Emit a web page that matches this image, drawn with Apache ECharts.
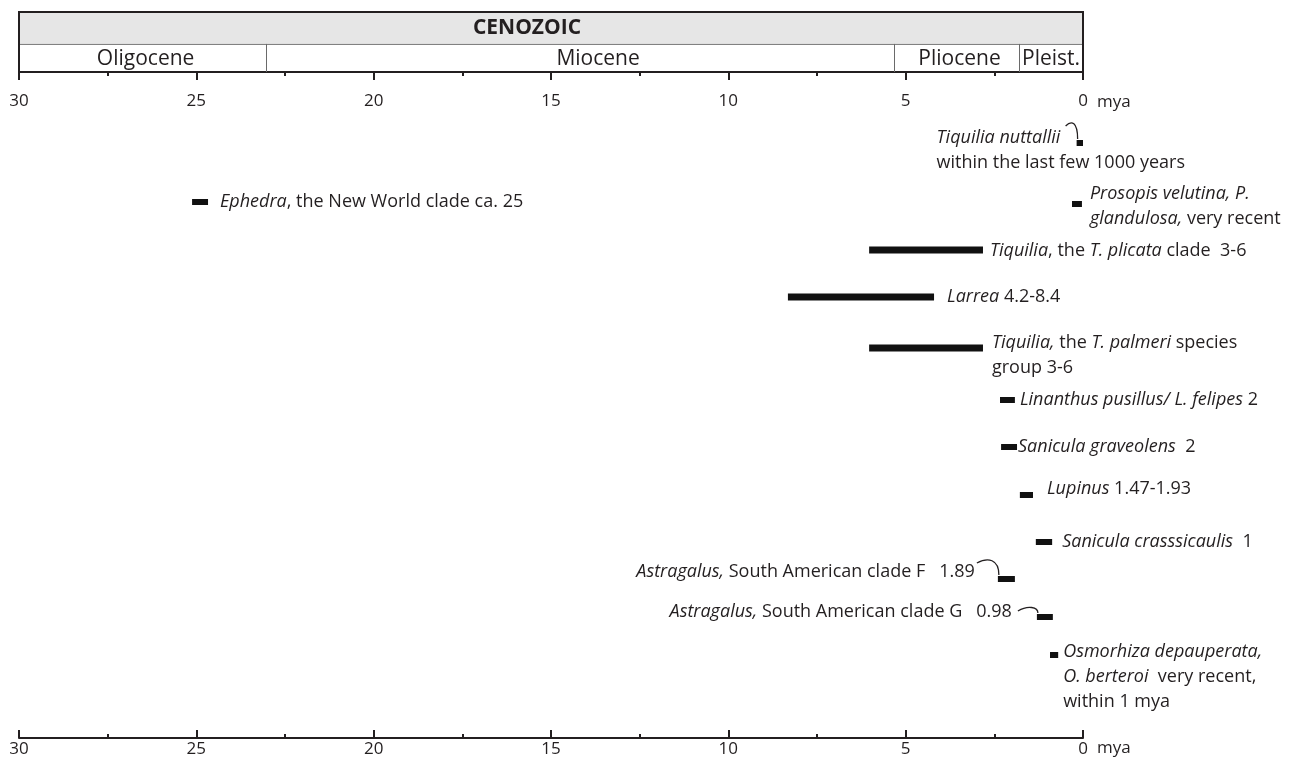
<!DOCTYPE html>
<html><head><meta charset="utf-8">
<script src="https://cdn.jsdelivr.net/npm/echarts@6/dist/echarts.min.js"></script>
<style>html,body{margin:0;padding:0;background:#fff}#c{width:1303px;height:758px}</style>
</head><body><div id="c"></div>
<script>
// ---------- data ----------
const taxa = ['Tiquilia nuttallii','Ephedra','Prosopis velutina / P. glandulosa','Tiquilia plicata clade','Larrea','Tiquilia palmeri group','Linanthus pusillus / L. felipes','Sanicula graveolens','Lupinus','Sanicula crasssicaulis','Astragalus clade F','Astragalus clade G','Osmorhiza depauperata / O. berteroi'];
const startMya = [0.00, 24.67, 0.03, 2.82, 4.20, 2.82, 1.92, 1.86, 1.41, 0.87, 1.92, 0.85, 0.70];
const endMya   = [0.18, 25.12, 0.31, 6.03, 8.32, 6.03, 2.34, 2.31, 1.78, 1.33, 2.40, 1.30, 0.93];
const lanes    = [10.66, 19.52, 19.82, 26.73, 33.78, 41.44, 49.25, 56.31, 63.51, 70.57, 76.13, 81.83, 87.54];
const labelTexts = [
  '{i|Tiquilia nuttallii}\n{n|within the last few 1000 years}',
  '{i|Ephedra}{n|, the New World clade ca. 25}',
  '{i|Prosopis velutina, P.}\n{i|glandulosa,}{n| very recent}',
  '{i|Tiquilia}{n|, the }{i|T. plicata}{n| clade  3-6}',
  '{i|Larrea}{n| 4.2-8.4}',
  '{i|Tiquilia,}{n| the }{i|T. palmeri}{n| species}\n{n|group 3-6}',
  '{i|Linanthus pusillus/ L. felipes}{n| 2}',
  '{i|Sanicula graveolens}{n|  2}',
  '{i|Lupinus}{n| 1.47-1.93}',
  '{i|Sanicula crasssicaulis}{n|  1}',
  '{i|Astragalus,}{n| South American clade F   1.89}',
  '{i|Astragalus,}{n| South American clade G   0.98}',
  '{i|Osmorhiza depauperata,}\n{i|O. berteroi}{n|  very recent,}\n{n|within 1 mya}'
];
const eraName = 'CENOZOIC';
const eraStart = 30, eraEnd = 0;
const epochNames = ['Oligocene','Miocene','Pliocene','Pleist.'];
const epochStart = [30, 23.03, 5.33, 1.8];
const epochEnd   = [23.03, 5.33, 1.8, 0];
const axisMin = 0, axisMax = 30, axisStep = 5;
const axisUnit = 'mya';

// ---------- layout / style ----------
const labelLayout = [
  {side:'block', gap:140, dy:7, arc:[-11,-17]},
  {side:'right', gap:12, dy:0},
  {side:'right', gap:8, dy:2},
  {side:'right', gap:7, dy:1},
  {side:'right', gap:13, dy:0},
  {side:'right', gap:9, dy:7},
  {side:'right', gap:5, dy:0},
  {side:'right', gap:1, dy:0},
  {side:'right', gap:14, dy:-6},
  {side:'right', gap:10, dy:0},
  {side:'left', gap:23, dy:-7, arc:[-21,-16]},
  {side:'left', gap:25, dy:-5, arc:[-19,-6]}
  ,{side:'right', gap:5, dy:22}
];
const epochLabelDx = [3, 18, 3, 0];
const eraLabelDx = -24;
const INK = '#231f20';
const FONT = 'Open Sans';
const LABEL_SIZE = 18;
const rich = {
  i:{fontFamily:FONT, fontSize:LABEL_SIZE, fontStyle:'italic', fill:INK, color:INK, lineHeight:25},
  n:{fontFamily:FONT, fontSize:LABEL_SIZE, fill:INK, color:INK, lineHeight:25}
};

const chart = echarts.init(document.getElementById('c'), null, {renderer:'canvas'});

function xAxisCfg(pos, inside, margin){
  return {
    gridIndex:0, type:'value', position:pos, min:axisMin, max:axisMax, interval:axisStep, inverse:true,
    axisLine:{show:true, onZero:false, lineStyle:{color:INK, width:2}},
    axisTick:{show:true, inside:true, length:8, lineStyle:{color:INK, width:2}},
    minorTick:{show:true, splitNumber:2, length:4, lineStyle:{color:INK, width:2}},
    splitLine:{show:false}, minorSplitLine:{show:false},
    axisLabel:{inside:inside, margin:margin, fontFamily:FONT, fontSize:17, color:INK, showMinLabel:true, showMaxLabel:true}
  };
}

const option = {
  animation:false,
  backgroundColor:'#fff',
  grid:[
    {left:19, right:220, top:72, bottom:20},
    {left:19, right:220, top:11, height:61}
  ],
  xAxis:[
    xAxisCfg('bottom', false, 3),
    xAxisCfg('top', true, 21),
    {gridIndex:1, type:'value', min:axisMin, max:axisMax, inverse:true, show:false}
  ],
  yAxis:[
    {gridIndex:0, type:'value', min:0, max:100, inverse:true, show:false},
    {gridIndex:1, type:'value', min:0, max:1, inverse:true, show:false}
  ],
  series:[
    {
      type:'custom', xAxisIndex:0, yAxisIndex:0, clip:false,
      data: taxa.map((t,i)=>[startMya[i], endMya[i], lanes[i], i]),
      encode:{x:[0,1], y:2},
      renderItem:function(params, api){
        const i = api.value(3);
        const a = api.coord([api.value(0), api.value(2)]);
        const b = api.coord([api.value(1), api.value(2)]);
        const L = labelLayout[i];
        const x0 = Math.min(a[0], b[0]), x1 = Math.max(a[0], b[0]);
        const w = x1 - x0;
        const h = w > 40 ? 7 : 6;
        const cy = a[1];
        const children = [{type:'rect', shape:{x:x0, y:cy-h/2, width:w, height:h}, style:{fill:'#111'}}];
        let tx, align;
        if (L.side === 'right') { tx = x1 + L.gap; align = 'left'; }
        else if (L.side === 'left') { tx = x0 - L.gap; align = 'right'; }
        else { tx = x0 - L.gap; align = 'left'; }
        children.push({type:'text', x:tx, y:cy + L.dy, style:{
          text:labelTexts[i], rich:rich, fontFamily:FONT, fontSize:LABEL_SIZE, fill:INK,
          align:align, textAlign:align, verticalAlign:'middle', textVerticalAlign:'middle'
        }});
        if (L.arc) {
          const sx = x0 + L.arc[0], sy = cy + L.arc[1];
          const ex = x0 + 1, ey = cy - h/2 - 1;
          const d = 'M' + sx + ' ' + sy + ' C ' + (sx + (ex - sx) * 0.5) + ' ' + (sy - 6) + ' ' + ex + ' ' + (sy - 4) + ' ' + ex + ' ' + ey;
          children.push({type:'path', shape:{pathData:d}, style:{stroke:INK, fill:null, lineWidth:1.3}});
        }
        return {type:'group', children:children};
      }
    },
    {
      type:'custom', xAxisIndex:2, yAxisIndex:1, clip:false, z:1,
      data:[[eraStart, eraEnd]],
      renderItem:function(params, api){
        const tl = api.coord([api.value(0), 0]);
        const br = api.coord([api.value(1), 0.54]);
        const bot = api.coord([api.value(1), 1]);
        return {type:'group', children:[
          {type:'rect', shape:{x:tl[0], y:tl[1], width:br[0]-tl[0], height:br[1]-tl[1]}, style:{fill:'#e6e6e6'}},
          {type:'line', shape:{x1:tl[0], y1:br[1]+0.5, x2:br[0], y2:br[1]+0.5}, style:{stroke:'#7a7a7a', lineWidth:1}},
          {type:'line', shape:{x1:tl[0]-1, y1:tl[1]+1, x2:br[0]+1, y2:tl[1]+1}, style:{stroke:INK, lineWidth:2}},
          {type:'line', shape:{x1:tl[0], y1:tl[1], x2:tl[0], y2:bot[1]}, style:{stroke:INK, lineWidth:2}},
          {type:'line', shape:{x1:br[0], y1:tl[1], x2:br[0], y2:bot[1]}, style:{stroke:INK, lineWidth:2}},
          {type:'text', x:(tl[0]+br[0])/2 + eraLabelDx, y:(tl[1]+br[1])/2 + 1, style:{
            text:eraName, fontFamily:FONT, fontWeight:'bold', fontSize:21, fill:INK,
            align:'center', textAlign:'center', verticalAlign:'middle', textVerticalAlign:'middle'}}
        ]};
      }
    },
    {
      type:'custom', xAxisIndex:2, yAxisIndex:1, clip:false, z:2,
      data: epochNames.map((n,i)=>[epochStart[i], epochEnd[i], i]),
      renderItem:function(params, api){
        const i = api.value(2);
        const p0 = api.coord([api.value(0), 0.54]);
        const p1 = api.coord([api.value(1), 1]);
        const children = [];
        if (i > 0) children.push({type:'line', shape:{x1:Math.round(p0[0])+0.5, y1:p0[1], x2:Math.round(p0[0])+0.5, y2:p1[1]}, style:{stroke:'#6a6a6a', lineWidth:1}});
        children.push({type:'text', x:(p0[0]+p1[0])/2 + epochLabelDx[i], y:(p0[1]+p1[1])/2 + 1, style:{
          text:epochNames[i], fontFamily:FONT, fontSize:21, fill:INK,
          align:'center', textAlign:'center', verticalAlign:'middle', textVerticalAlign:'middle'}});
        return {type:'group', children:children};
      }
    }
  ]
};
chart.setOption(option);

const zeroX = chart.convertToPixel({xAxisIndex:0}, 0);
chart.setOption({graphic:[
  {type:'text', x:zeroX + 14, y:102, style:{text:axisUnit, fontFamily:FONT, fontSize:17, fill:INK, verticalAlign:'middle', textVerticalAlign:'middle'}},
  {type:'text', x:zeroX + 14, y:748, style:{text:axisUnit, fontFamily:FONT, fontSize:17, fill:INK, verticalAlign:'middle', textVerticalAlign:'middle'}}
]});
</script>
</body></html>
